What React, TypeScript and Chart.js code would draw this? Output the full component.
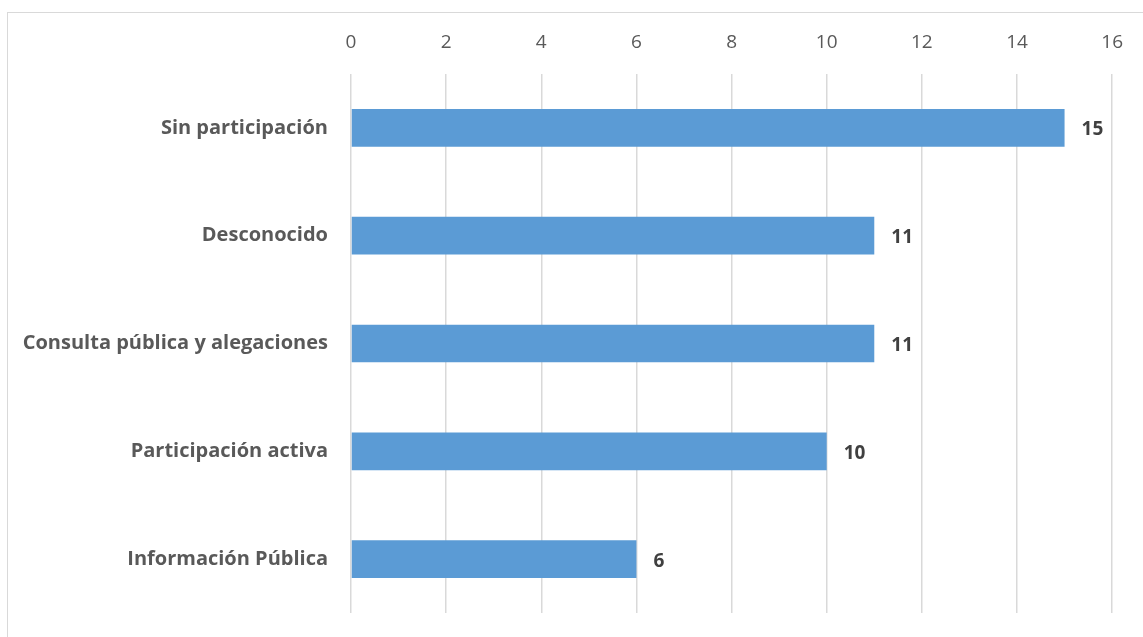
import React, { useEffect, useRef } from "react";
import { Chart, registerables } from "chart.js";

Chart.register(...registerables);

const categories = [
  "Sin participación",
  "Desconocido",
  "Consulta pública y alegaciones",
  "Participación activa",
  "Información Pública",
];
const values = [15, 11, 11, 10, 6];
const xTicks = [0, 2, 4, 6, 8, 10, 12, 14, 16];

const FONT = "'Open Sans', sans-serif";

const valueLabels = {
  id: "valueLabels",
  afterDatasetsDraw(chart: any) {
    const ctx = chart.ctx;
    const meta = chart.getDatasetMeta(0);
    ctx.save();
    ctx.font = `bold 19px ${FONT}`;
    ctx.fillStyle = "#404040";
    ctx.textAlign = "left";
    ctx.textBaseline = "middle";
    meta.data.forEach((bar: any, i: number) => {
      ctx.fillText(String(values[i]), bar.x + 17, bar.y + 2);
    });
    ctx.restore();
  },
};

export default function App() {
  const ref = useRef<HTMLCanvasElement | null>(null);
  useEffect(() => {
    if (!ref.current) return;
    const chart = new Chart(ref.current, {
      type: "bar",
      data: {
        labels: categories,
        datasets: [
          {
            data: values,
            backgroundColor: "#5B9BD5",
            borderWidth: 0,
            barPercentage: 0.35,
            categoryPercentage: 1,
          },
        ],
      },
      options: {
        indexAxis: "y",
        animation: false,
        responsive: false,
        maintainAspectRatio: false,
        layout: { padding: { left: 0, right: 29, top: 0, bottom: 24 } },
        plugins: { legend: { display: false }, tooltip: { enabled: false } },
        scales: {
          x: {
            position: "top",
            min: 0,
            max: 16,
            afterBuildTicks: (s: any) => {
              s.ticks = xTicks.map((v) => ({ value: v }));
            },
            afterFit: (s: any) => {
              s.height = 74;
            },
            grid: { color: "#d9d9d9", lineWidth: 1.5, drawTicks: false },
            border: { display: false },
            ticks: {
              padding: 20,
              color: "#595959",
              font: { family: FONT, size: 19 },
            },
          },
          y: {
            afterFit: (s: any) => {
              s.width = 351;
              s.paddingTop = 0;
              s.paddingBottom = 0;
            },
            grid: { display: false, drawTicks: false },
            border: { display: false },
            ticks: {
              padding: 23,
              color: "#595959",
              font: { family: FONT, size: 20, weight: "bold" },
            },
          },
        },
      },
      plugins: [valueLabels],
    });
    return () => chart.destroy();
  }, []);
  return (
    <div style={{ position: "fixed", left: 0, top: 0, width: 1143, height: 637, background: "#fff" }}>
      <div
        style={{
          position: "absolute",
          left: 7,
          top: 12,
          width: 1150,
          height: 640,
          border: "1px solid #d9d9d9",
        }}
      />
      <canvas ref={ref} width={1143} height={637} style={{ position: "absolute", left: 0, top: 0 }} />
    </div>
  );
}
